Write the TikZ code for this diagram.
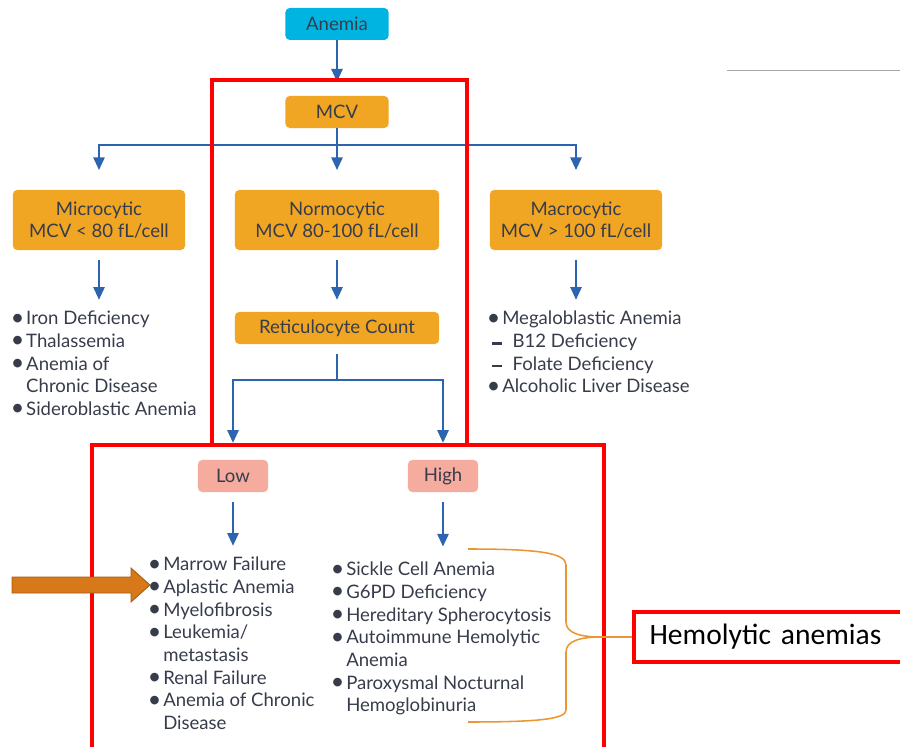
\documentclass[tikz,border=0pt]{standalone}
\usepackage{fontspec}
\setmainfont{Lato}
\newfontfamily\calfont{Carlito}
\usetikzlibrary{arrows.meta, positioning, calc}

\definecolor{boxcyan}{RGB}{0,180,226}
\definecolor{boxorange}{RGB}{241,166,35}
\definecolor{boxsalmon}{RGB}{245,172,158}
\definecolor{linkblue}{RGB}{45,100,175}
\definecolor{txtgray}{RGB}{55,60,75}
\definecolor{braceorange}{RGB}{236,150,50}
\definecolor{pointer}{RGB}{215,120,25}
\definecolor{pointerdark}{RGB}{165,90,20}

\newcommand{\bul}{\makebox[11pt][l]{\raisebox{-0.2pt}{\scalebox{1.25}{\textbullet}}}}
\newcommand{\ind}{\hspace*{11pt}}
\newcommand{\dsh}{\hspace*{4pt}\makebox[14.4pt][l]{\rule[0.3ex]{7pt}{1.8pt}}}

\begin{document}
\begin{tikzpicture}[x=0.025cm, y=-0.025cm, >={Triangle[width=8pt,length=9pt]},
  font=\fontsize{13.2}{16.1}\selectfont, text=txtgray,
  box/.style={rounded corners=3pt, fill=boxorange, minimum height=0.8cm, inner sep=2pt, align=center},
  link/.style={draw=linkblue, line width=1.3pt},
  list/.style={anchor=north west, inner sep=0pt, align=left},
  frame/.style={draw=red, line width=3pt},
  brace/.style={draw=braceorange, line width=1.1pt}]
  \clip (0,0) rectangle (900,747);

  % boxes
  \node[box, fill=boxcyan, minimum width=2.575cm] (anemia) at (337,24) {Anemia};
  \node[box, minimum width=2.575cm] (mcv) at (337,112) {MCV};
  \node[box, minimum width=4.3cm, minimum height=1.5cm] (micro) at (99,220) {Microcytic\\MCV < 80 fL/cell};
  \node[box, minimum width=5.1cm, minimum height=1.5cm] (normo) at (337,220) {Normocytic\\MCV 80-100 fL/cell};
  \node[box, minimum width=4.3cm, minimum height=1.5cm] (macro) at (576,220) {Macrocytic\\MCV > 100 fL/cell};
  \node[box, minimum width=5.1cm] (retic) at (337,328) {Reticulocyte Count};
  \node[box, fill=boxsalmon, minimum width=1.75cm] (low) at (233,476) {Low};
  \node[box, fill=boxsalmon, minimum width=1.75cm] (high) at (443,476) {High};

  % lists
  \node[list] (microlist) at (10.5,311) {\bul Iron Deficiency\\ \bul Thalassemia\\ \bul Anemia of\\ \ind Chronic Disease\\ \bul Sideroblastic Anemia};
  \node[list] (macrolist) at (486.5,311) {\bul Megaloblastic Anemia\\ \dsh B12 Deficiency\\ \dsh Folate Deficiency\\ \bul Alcoholic Liver Disease};
  \node[list] (lowlist) at (147.5,557) {\bul Marrow Failure\\ \bul Aplastic Anemia\\ \bul Myelofibrosis\\ \bul Leukemia/\\ \ind metastasis\\ \bul Renal Failure\\ \bul Anemia of Chronic\\ \ind Disease};
  \node[list] (highlist) at (330.5,562) {\bul Sickle Cell Anemia\\ \bul G6PD Deficiency\\ \bul Hereditary Spherocytosis\\ \bul Autoimmune Hemolytic\\ \ind Anemia\\ \bul Paroxysmal Nocturnal\\ \ind Hemoglobinuria};
  \node[draw=red, line width=3pt, anchor=west, minimum height=1.25cm, text width=6.2cm, inner xsep=11pt, align=left, text=black, font=\calfont\fontsize{21}{24}\selectfont] (hemo) at (632,637) {Hemolytic anemias};

  % connectors
  \coordinate (bus) at (337,145);
  \coordinate (split) at (337,380);
  \draw[link, ->, shorten >=10pt] (anemia) -- (mcv);
  \draw[link] (mcv) -- (bus);
  \draw[link, ->, shorten >=14pt] (bus) -| (micro);
  \draw[link, ->, shorten >=14pt] (bus) -- (normo);
  \draw[link, ->, shorten >=14pt] (bus) -| (macro);
  \draw[link, ->, shorten <=7pt, shorten >=8pt] (micro) -- (micro |- microlist.north);
  \draw[link, ->, shorten <=7pt, shorten >=8pt] (macro) -- (macro |- macrolist.north);
  \draw[link, ->, shorten <=7pt, shorten >=8.5pt] (normo) -- (retic);
  \draw[link, shorten <=7pt] (retic) -- (split);
  \draw[link, ->, shorten >=12pt] (split) -| (low);
  \draw[link, ->, shorten >=12pt] (split) -| (high);
  \draw[link, ->, shorten <=7pt, shorten >=8pt] (low) -- (low |- lowlist.north);
  \draw[link, ->, shorten <=7pt, shorten >=11pt] (high) -- (high |- highlist.north);

  % red frames
  \draw[frame] (212,80) rectangle (467,445);
  \draw[frame] (92,445) rectangle (604,770);

  % brace to hemolytic box
  \coordinate (tip) at (601,637);
  \draw[brace] (468,549) .. controls (540,549) and (566,553) .. (566,565) -- (566,622)
    .. controls (566,633) and (580,637) .. (tip)
    .. controls (580,637) and (566,641) .. (566,652) -- (566,710)
    .. controls (566,719) and (540,722) .. (468,722);
  \draw[brace] (tip) -- (hemo);

  % pointer arrow
  \coordinate (ptip) at (150,585);
  \draw[fill=pointer, draw=pointerdark, line width=0.6pt] (12,577) -- (131,577) -- (131,568) -- (ptip) -- (131,602) -- (131,593) -- (12,593) -- cycle;

  % top right rule
  \draw[gray!70, line width=0.6pt] (727,70) -- (900,70);
\end{tikzpicture}
\end{document}
